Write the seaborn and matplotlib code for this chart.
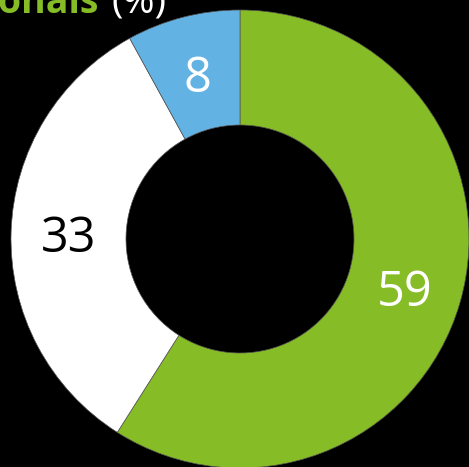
import numpy as np
import pandas as pd
import matplotlib
matplotlib.use('Agg')
import matplotlib.pyplot as plt
import seaborn as sns

# data
categories = ['Green', 'White', 'Blue']
values = [59, 33, 8]
colors = ['#86bc25', '#ffffff', '#62b3e4']
label_colors = ['white', 'black', 'white']

sns.set_style('white')
plt.rcParams['font.family'] = ['Open Sans', 'DejaVu Sans']

fig = plt.figure(figsize=(4.69, 4.67), dpi=100, facecolor='black')
ax = fig.add_axes([0, 0, 1, 1])
ax.set_facecolor('black')

df = pd.DataFrame({'cat': categories, 'val': values})
wedges, texts = ax.pie(df.val, colors=colors, startangle=90, counterclock=False,
                       center=(240, 228), radius=229, frame=True,
                       wedgeprops=dict(width=115, edgecolor='#555555', linewidth=0.5))
ax.set_xlim(0, 469)
ax.set_ylim(0, 467)
ax.set_axis_off()

# labels in middle of ring
cum = np.cumsum([0] + values[:-1])
for v, c, lc in zip(values, cum, label_colors):
    ang = np.deg2rad(90 - 360 * (c + v / 2) / 100)
    r = 171.5
    ax.text(240 + r * np.cos(ang), 222 + r * np.sin(ang), str(v), ha='center', va='center',
            fontsize=35, color=lc)

# cropped title
ax.text(99, 454, 'Professionals', ha='right', va='baseline', fontsize=27,
        fontweight='bold', color='#86bc25')
ax.text(111, 454, '(%)', ha='left', va='baseline', fontsize=28, color='white')

fig.savefig('out.png', dpi=100, facecolor='black')
